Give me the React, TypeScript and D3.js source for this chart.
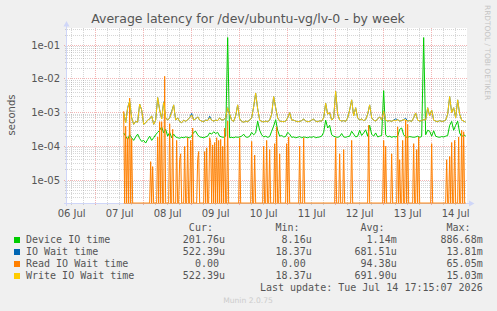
import React from 'react';
import * as d3 from 'd3';

const W = 497;
const H = 311;
const plot = { left: 67, right: 467, top: 28, bottom: 203 };

const HOUR = 3600000;
const viewStart = Date.UTC(2026, 6, 6, 9, 40);
const viewEnd = Date.UTC(2026, 6, 14, 17, 40);
const seriesStart = Date.UTC(2026, 6, 7, 14, 0);

const yDomain = [2.075e-6, 0.3264];
const yTicks = [1e-5, 1e-4, 1e-3, 1e-2, 1e-1];
const yTickLabels = ['1e-05', '1e-04', '1e-03', '1e-02', '1e-01'];
const dayLabels = ['06 Jul', '07 Jul', '08 Jul', '09 Jul', '10 Jul', '11 Jul', '12 Jul', '13 Jul', '14 Jul'];
const dayNumbers = [6, 7, 8, 9, 10, 11, 12, 13, 14];

// hourly values in microseconds, starting 07 Jul 14:00
const deviceIO = [
  250, 200, 160, 220, 180, 150, 190, 230, 170, 140, 150,
  125, 160, 200, 150, 180, 220, 260, 300,
  380, 250, 320, 200, 260, 180, 230,
  190, 180, 175, 185, 180, 190, 185, 180, 200,
  260, 280, 220,
  190, 185, 180, 190, 200,
  250, 230, 270, 240, 260, 200, 190, 185, 200,
  170000,
  180, 185, 180, 190,
  185, 190, 200, 230,
  190, 185, 200,
  260, 220, 250, 560, 300, 220,
  190, 200, 185, 195,
  280, 400, 620, 300,
  200, 210, 190, 195,
  260, 230,
  185, 190, 180, 185, 195, 180, 190, 185, 180, 190, 185, 195, 180, 185, 190, 200,
  260, 600, 350, 420, 220, 200,
  190, 185, 195,
  240,
  190, 185, 195, 200,
  280, 230, 190, 200, 300, 210, 250, 310, 200, 420, 230,
  200, 250, 190, 200, 210,
  4500,
  220,
  190, 200, 185, 195, 190, 200,
  320, 350, 220,
  190, 185, 195, 190, 185, 190, 200, 185, 195,
  170000,
  220, 300, 280, 200, 290, 200,
  190, 185, 195, 190, 200, 210,
  420, 550, 300, 420, 560, 250, 190, 220, 202,
];

const ioWait = [
  1000, 500, 1400, 2200, 700, 450, 550, 520, 1800, 1200, 450,
  500, 600, 650, 800, 450, 600, 2800, 1200,
  650, 2100, 700, 600, 700, 1100, 1700,
  600, 700, 550, 500, 600, 550, 620, 700, 950,
  600, 650, 750,
  600, 560, 540, 600, 580,
  780, 600, 560, 600, 580, 700, 600, 620, 700,
  1400,
  900, 600, 550, 800,
  1700, 650, 550, 520,
  560, 540, 600,
  700, 1500, 3800, 1300, 600, 550,
  530, 560, 540, 600,
  900, 3000, 1400, 700,
  560, 550, 540, 560,
  700, 1000,
  600, 600, 560, 540, 550, 580, 650, 560, 540, 550, 600, 640, 560, 540, 570, 560,
  700, 1900, 900, 1000, 600, 700,
  4300, 900, 600,
  560,
  580, 550, 700, 1200,
  2400, 800, 1400, 700, 600, 650, 580, 620, 900, 1700, 700,
  600, 560, 650, 750, 600,
  1100,
  600,
  560, 580, 550, 600, 650, 620,
  560, 580, 620,
  680, 560, 580, 550, 700, 980, 600, 560, 580,
  620,
  600, 1400, 800, 1200, 600, 560,
  540, 580, 550, 560, 600, 900,
  3000, 1000, 1400, 700, 2400, 900, 600, 560, 522,
];

const writeWait = [
  1000, 500, 1400, 2200, 700, 450, 550, 520, 1800, 1200, 450,
  500, 600, 650, 800, 450, 600, 2800, 1200,
  650, 2000, 700, 600, 700, 1000, 1700,
  600, 700, 550, 500, 600, 550, 620, 700, 850,
  600, 650, 750,
  600, 560, 540, 600, 580,
  700, 600, 560, 600, 580, 700, 600, 620, 700,
  1400,
  900, 600, 550, 800,
  1700, 650, 550, 520,
  560, 540, 600,
  700, 1500, 3800, 1300, 600, 550,
  530, 560, 540, 600,
  900, 3000, 1400, 700,
  560, 550, 540, 560,
  700, 1000,
  600, 600, 560, 540, 550, 580, 650, 560, 540, 550, 600, 640, 560, 540, 570, 560,
  700, 1900, 900, 1000, 600, 700,
  4300, 900, 600,
  560,
  580, 550, 700, 1200,
  2400, 800, 1400, 700, 600, 650, 580, 620, 900, 1700, 700,
  600, 560, 650, 750, 600,
  1100,
  600,
  560, 580, 550, 600, 570, 620,
  560, 580, 620,
  600, 560, 580, 550, 700, 980, 600, 560, 580,
  620,
  600, 1400, 800, 1200, 600, 560,
  540, 580, 550, 560, 600, 900,
  3000, 1000, 1400, 700, 2400, 900, 600, 560, 522,
];

// read IO wait is zero except at these hour offsets (from 07 Jul 14:00), values in microseconds
const readSpikeHours = [
  0, 1, 2, 3, 4, 13.5, 14.5, 17, 18, 19, 20.5, 23, 24.5, 26.5,
  28, 28.5, 30.5, 32, 33.5, 34.5, 37, 37.5, 40.5, 41.5, 43, 43.5, 44.5, 45.5, 46.5, 47.5, 48.5, 49.5, 50.5, 52,
  58, 64, 65.5, 70, 71.5, 73, 75.5, 76.5, 78, 81.5, 82.5,
  88, 90, 106, 108, 110, 114,
  122.5, 130, 131, 134, 137, 138, 139.5, 141, 142, 145, 146.5, 147.5,
  154, 161.5, 163, 164, 165.5, 167.5, 169, 170,
];
const readSpikeValues = [
  1100, 400, 180, 2700, 170, 35, 25, 190, 540, 540, 12000, 470, 320, 150,
  40, 60, 100, 180, 150, 350, 40, 70, 70, 90, 180, 130, 110, 130, 180, 150, 160, 100, 350, 560,
  180, 140, 55, 100, 150, 80, 120, 380, 60, 120, 190,
  100, 180, 180, 60, 80, 150,
  420, 150, 100, 60, 380, 40, 150, 600, 450, 120, 80, 190,
  120, 40, 50, 130, 150, 190, 300, 270,
];

const legendNames = ['Device IO time', 'IO Wait time', 'Read IO Wait time', 'Write IO Wait time'];
const legendColors = ['#00CC00', '#0066B3', '#FF8000', '#FFCC00'];
const curValues = ['201.76u', '522.39u', '0.00', '522.39u'];
const minValues = ['8.16u', '18.37u', '0.00', '18.37u'];
const avgValues = ['1.14m', '681.51u', '94.38u', '691.90u'];
const maxValues = ['886.68m', '13.81m', '65.05m', '15.03m'];
const columnHeaders = ['Cur:', 'Min:', 'Avg:', 'Max:'];

const FONT = '#555555';
const SANS = "'DejaVu Sans', sans-serif";
const MONO = "'DejaVu Sans Mono', monospace";

export default function App() {
  const x = d3.scaleUtc().domain([viewStart, viewEnd]).range([plot.left, plot.right]);
  const y = d3.scaleLog().domain(yDomain).range([plot.bottom, plot.top]);
  const py = (v: number) => (v > 0 ? Math.max(plot.top - 5, Math.min(plot.bottom, y(v))) : plot.bottom);

  const hourly = (arr: number[]) => arr.map((v, i) => ({ t: seriesStart + i * HOUR, v: v * 1e-6 }));

  const n = (deviceIO.length - 1) * 2 + 1;
  const readSeries: { t: number; v: number }[] = [];
  for (let i = 0; i < n; i++) readSeries.push({ t: seriesStart + i * HOUR / 2, v: 0 });
  readSpikeHours.forEach((h, k) => {
    const idx = Math.round(h * 2);
    if (idx >= 0 && idx < n) readSeries[idx].v = readSpikeValues[k] * 1e-6;
  });

  const line = d3
    .line<{ t: number; v: number }>()
    .x((d) => x(d.t))
    .y((d) => py(d.v));

  const series = [
    { data: hourly(deviceIO), color: legendColors[0] },
    { data: hourly(ioWait), color: legendColors[1] },
    { data: readSeries, color: legendColors[2] },
    { data: hourly(writeWait), color: legendColors[3] },
  ];

  // horizontal grid
  const minorH: number[] = [];
  const majorH: number[] = [];
  for (let k = -6; k <= 0; k++) {
    for (let m = 1; m <= 9; m++) {
      const v = m * Math.pow(10, k);
      if (v < yDomain[0] || v > yDomain[1]) continue;
      if (m === 1) majorH.push(v);
      else minorH.push(v);
    }
  }
  // vertical grid
  const minorV: number[] = [];
  const majorV: number[] = [];
  const sixH = 6 * HOUR;
  for (let t = Math.ceil(viewStart / sixH) * sixH; t <= viewEnd; t += sixH) {
    if (new Date(t).getUTCHours() === 0) majorV.push(t);
    else minorV.push(t);
  }

  const snap = (v: number) => Math.floor(v) + 0.5;
  const minorColor = 'rgba(128,128,128,0.32)';
  const majorColor = 'rgba(225,60,60,0.38)';
  const axisColor = '#CFD6F8';

  const rowBase = [243, 255, 267, 279];
  const colRight = [225, 311.7, 396.7, 482.7];
  const colValues = [curValues, minValues, avgValues, maxValues];
  const charW = 6.02;

  return (
    <svg
      width={W}
      height={H}
      style={{ position: 'absolute', left: 0, top: 0, display: 'block' }}
      xmlns="http://www.w3.org/2000/svg"
    >
      <defs>
        <clipPath id="plotclip">
          <rect x={plot.left} y={plot.top - 5} width={plot.right - plot.left} height={plot.bottom - plot.top + 6} />
        </clipPath>
      </defs>
      <rect x={0} y={0} width={W} height={H} fill="#F0F0F0" />
      <rect x={plot.left} y={plot.top} width={plot.right - plot.left} height={plot.bottom - plot.top} fill="#FFFFFF" />

      {minorH.map((v, i) => (
        <line key={'mh' + i} x1={plot.left - 2} x2={plot.right} y1={snap(y(v))} y2={snap(y(v))} stroke={minorColor} strokeWidth={1} strokeDasharray="1 1" />
      ))}
      {minorV.map((t, i) => (
        <line key={'mv' + i} x1={snap(x(t))} x2={snap(x(t))} y1={plot.top} y2={plot.bottom + 2} stroke={minorColor} strokeWidth={1} strokeDasharray="1 1" />
      ))}
      {majorH.map((v, i) => (
        <line key={'Mh' + i} x1={plot.left - 3} x2={plot.right} y1={snap(y(v))} y2={snap(y(v))} stroke={majorColor} strokeWidth={1} strokeDasharray="1 1" />
      ))}
      {majorV.map((t, i) => (
        <line key={'Mv' + i} x1={snap(x(t))} x2={snap(x(t))} y1={plot.top} y2={plot.bottom + 3} stroke={majorColor} strokeWidth={1} strokeDasharray="1 1" />
      ))}

      <g clipPath="url(#plotclip)">
        {series.map((s, i) => (
          <path key={'s' + i} d={line(s.data) || ''} fill="none" stroke={s.color} strokeWidth={1} />
        ))}
      </g>

      {/* axes */}
      <line x1={66.5} x2={66.5} y1={plot.bottom + 3} y2={24} stroke={axisColor} strokeWidth={1} />
      <path d="M63.5,26.5 L66.5,21 L69.5,26.5 Z" fill={axisColor} />
      <line x1={64} x2={470} y1={203.5} y2={203.5} stroke={axisColor} strokeWidth={1} />
      <path d="M469,200.5 L474.5,203.5 L469,206.5 Z" fill={axisColor} />
      {/* zero line of read series drawn over the axis */}
      <line x1={x(seriesStart)} x2={x(seriesStart + (deviceIO.length - 1) * HOUR)} y1={203.5} y2={203.5} stroke="#FF8000" strokeOpacity={0.55} strokeWidth={1} />

      {/* y tick labels */}
      {yTicks.map((v, i) => (
        <text key={'yt' + i} x={60} y={y(v) + 0.5} textAnchor="end" dominantBaseline="middle" fontFamily={SANS} fontSize={10} fill={FONT}>
          {yTickLabels[i]}
        </text>
      ))}
      {/* x tick labels at noon */}
      {dayNumbers.map((d, i) => (
        <text key={'xt' + i} x={x(Date.UTC(2026, 6, d, 12, 0))} y={216.5} textAnchor="middle" fontFamily={SANS} fontSize={10} fill={FONT}>
          {dayLabels[i]}
        </text>
      ))}

      <text x={0} y={0} transform="translate(15,115) rotate(-90)" textAnchor="middle" fontFamily={SANS} fontSize={10} fill={FONT}>
        seconds
      </text>

      <text x={248} y={23} textAnchor="middle" fontFamily={SANS} fontSize={12.5} fill={FONT}>
        Average latency for /dev/ubuntu-vg/lv-0 - by week
      </text>

      <text x={0} y={0} transform="translate(485,5) rotate(90)" fontFamily={SANS} fontSize={7.4} fill="#C4C4C4">
        RRDTOOL / TOBI OETIKER
      </text>

      {/* legend */}
      {columnHeaders.map((h, i) => (
        <text key={'ch' + i} x={colRight[i] - 2 * charW} y={231} textAnchor="end" fontFamily={MONO} fontSize={10} fill={FONT}>
          {h}
        </text>
      ))}
      {legendNames.map((name, r) => (
        <g key={'lg' + r}>
          <rect x={14} y={rowBase[r] - 6} width={6} height={6} fill={legendColors[r]} />
          <text x={26} y={rowBase[r]} fontFamily={MONO} fontSize={10} fill={FONT}>
            {name}
          </text>
          {colValues.map((col, c) => {
            const val = col[r];
            const hasSuffix = /[a-zA-Z]$/.test(val);
            return (
              <text key={'v' + c} x={colRight[c] - (hasSuffix ? 0 : charW)} y={rowBase[r]} textAnchor="end" fontFamily={MONO} fontSize={10} fill={FONT}>
                {val}
              </text>
            );
          })}
        </g>
      ))}
      <text x={482.7} y={291} textAnchor="end" fontFamily={MONO} fontSize={10} fill={FONT}>
        Last update: Tue Jul 14 17:15:07 2026
      </text>
      <text x={248} y={302.5} textAnchor="middle" fontFamily={SANS} fontSize={7.6} fill="#CCCCCC">
        Munin 2.0.75
      </text>
    </svg>
  );
}
